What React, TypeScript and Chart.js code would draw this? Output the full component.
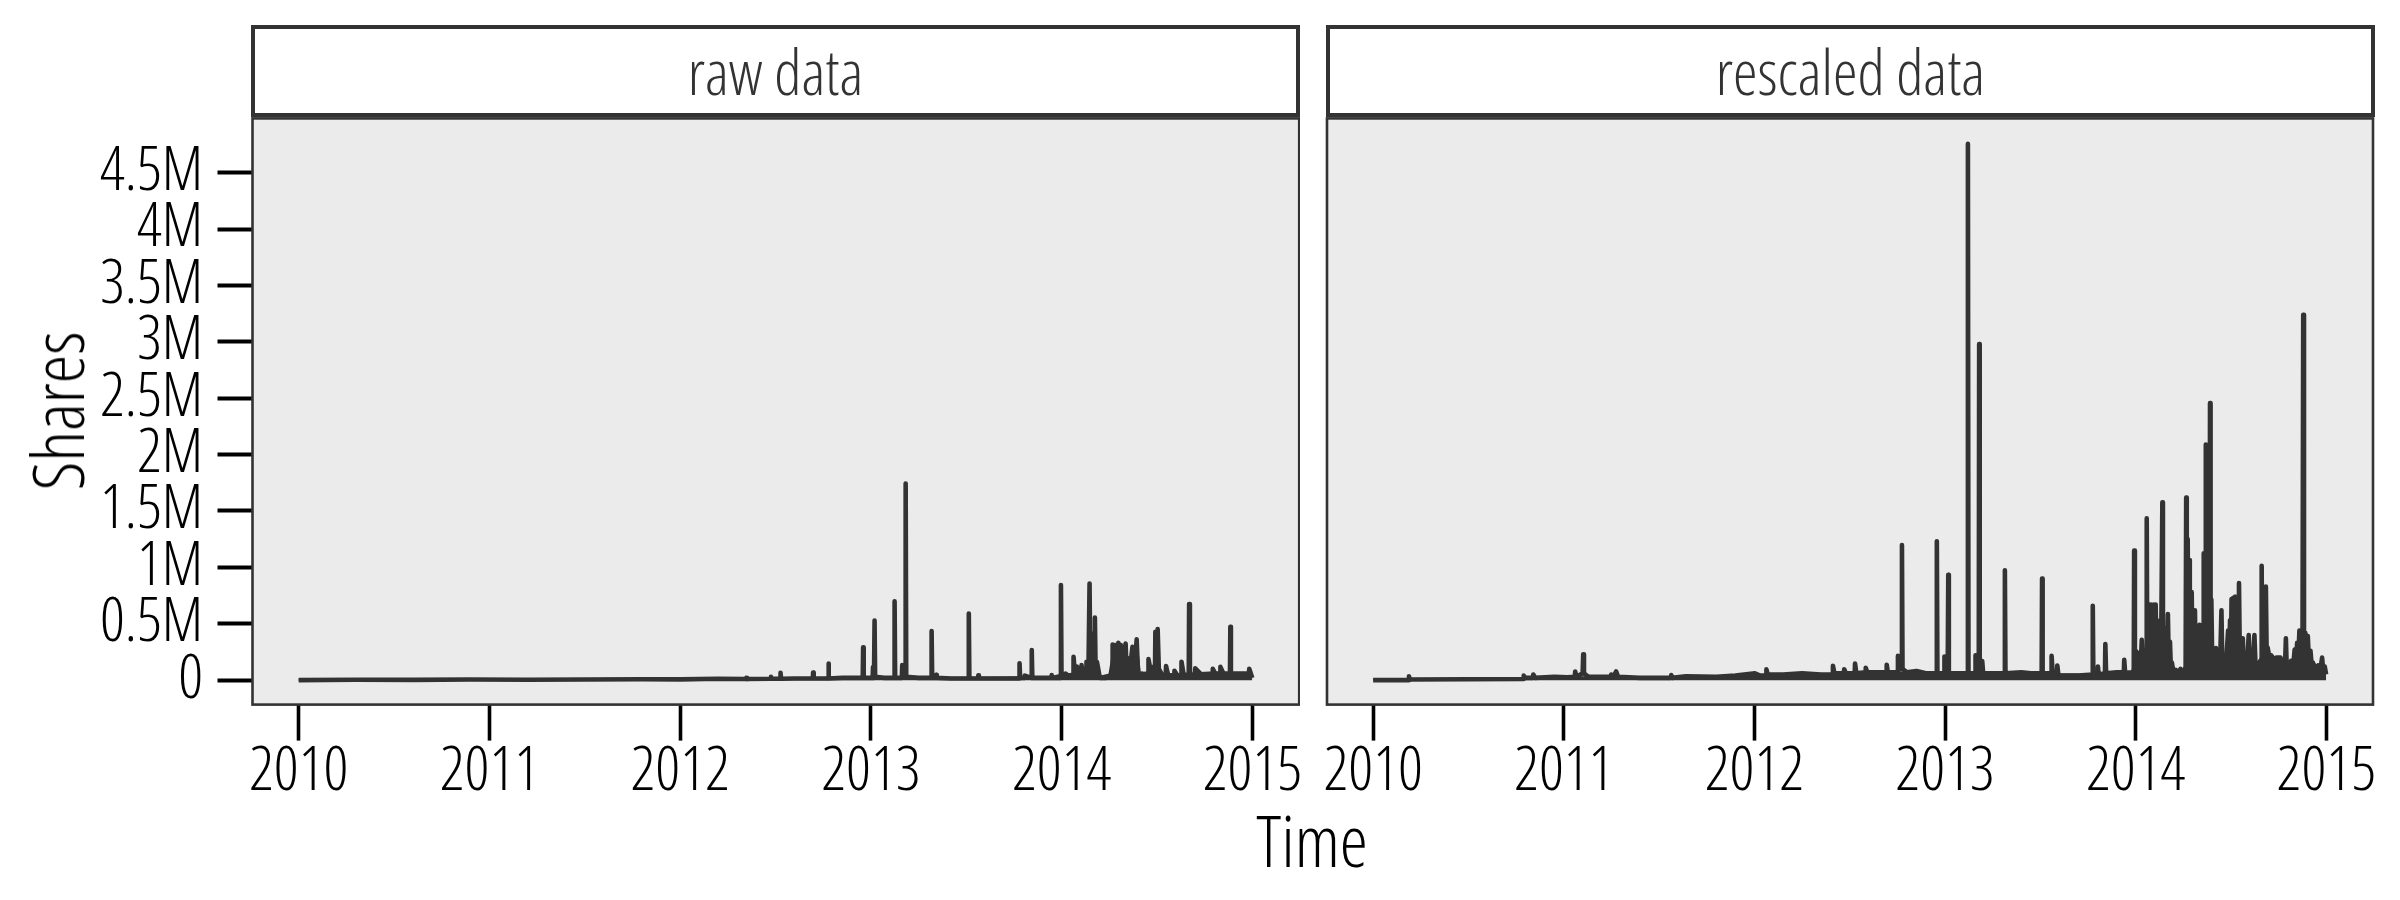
import React, { useEffect, useRef } from "react";
import { Chart, registerables } from "chart.js";

Chart.register(...registerables);

// ---------- data ----------
const xTickValues = [2010, 2011, 2012, 2013, 2014, 2015];
const xTickLabels = ["2010", "2011", "2012", "2013", "2014", "2015"];
const yTickValues = [0, 0.5, 1, 1.5, 2, 2.5, 3, 3.5, 4, 4.5];
const yTickLabels = ["0", "0.5M", "1M", "1.5M", "2M", "2.5M", "3M", "3.5M", "4M", "4.5M"];
const stripLabels = ["raw data", "rescaled data"];
const xTitle = "Time";
const yTitle = "Shares";

// raw data: time (decimal year), shares (millions)
const rawTime = [
  2010.0, 2010.3, 2010.6, 2010.9, 2011.2, 2011.5, 2011.8, 2012.0, 2012.2, 2012.344,
  2012.346, 2012.35, 2012.474, 2012.476, 2012.48, 2012.524, 2012.526, 2012.529, 2012.6, 2012.695,
  2012.697, 2012.7, 2012.775, 2012.777, 2012.78, 2012.85, 2012.957, 2012.959, 2012.962, 2013.009,
  2013.011, 2013.016, 2013.019, 2013.022, 2013.07, 2013.121, 2013.124, 2013.127, 2013.162, 2013.164,
  2013.179, 2013.182, 2013.185, 2013.25, 2013.316, 2013.318, 2013.321, 2013.34, 2013.342, 2013.345,
  2013.42, 2013.511, 2013.513, 2013.516, 2013.561, 2013.563, 2013.566, 2013.68, 2013.777, 2013.779,
  2013.782, 2013.805, 2013.807, 2013.841, 2013.843, 2013.846, 2013.944, 2013.946, 2013.949, 2013.994,
  2013.996, 2013.999, 2014.018, 2014.02, 2014.04, 2014.06, 2014.062, 2014.07, 2014.078, 2014.08,
  2014.09, 2014.102, 2014.104, 2014.112, 2014.128, 2014.13, 2014.14, 2014.146, 2014.15, 2014.156,
  2014.162, 2014.17, 2014.174, 2014.178, 2014.185, 2014.2, 2014.23, 2014.265, 2014.267, 2014.272,
  2014.28, 2014.286, 2014.297, 2014.302, 2014.31, 2014.318, 2014.335, 2014.34, 2014.348, 2014.35,
  2014.356, 2014.371, 2014.38, 2014.393, 2014.4, 2014.418, 2014.42, 2014.44, 2014.453, 2014.455,
  2014.47, 2014.489, 2014.491, 2014.497, 2014.503, 2014.51, 2014.545, 2014.547, 2014.56, 2014.589,
  2014.591, 2014.61, 2014.626, 2014.628, 2014.64, 2014.666, 2014.668, 2014.672, 2014.698, 2014.7,
  2014.74, 2014.79, 2014.792, 2014.81, 2014.83, 2014.832, 2014.85, 2014.882, 2014.884, 2014.887,
  2014.93, 2014.981, 2014.983, 2014.999,
];
const rawShares = [
  0, 0.004, 0.002, 0.005, 0.004, 0.006, 0.008, 0.007, 0.012, 0.01,
  0.02, 0.01, 0.012, 0.029, 0.012, 0.012, 0.065, 0.012, 0.015, 0.015,
  0.068, 0.015, 0.015, 0.148, 0.015, 0.02, 0.02, 0.29, 0.02, 0.02,
  0.117, 0.02, 0.529, 0.03, 0.02, 0.02, 0.7, 0.02, 0.02, 0.133,
  0.03, 1.744, 0.03, 0.02, 0.02, 0.435, 0.02, 0.02, 0.047, 0.02,
  0.015, 0.015, 0.59, 0.015, 0.015, 0.042, 0.015, 0.015, 0.015, 0.15,
  0.02, 0.02, 0.04, 0.02, 0.266, 0.02, 0.02, 0.044, 0.02, 0.02,
  0.843, 0.03, 0.03, 0.059, 0.03, 0.03, 0.207, 0.04, 0.04, 0.12,
  0.04, 0.04, 0.133, 0.04, 0.04, 0.163, 0.05, 0.857, 0.06, 0.414,
  0.355, 0.05, 0.555, 0.05, 0.16, 0.02, 0.02, 0.05, 0.316, 0.09,
  0.31, 0.09, 0.331, 0.09, 0.31, 0.07, 0.325, 0.09, 0.07, 0.177,
  0.07, 0.296, 0.07, 0.361, 0.05, 0.04, 0.059, 0.04, 0.04, 0.186,
  0.05, 0.05, 0.429, 0.1, 0.452, 0.05, 0.03, 0.124, 0.03, 0.03,
  0.083, 0.03, 0.04, 0.163, 0.04, 0.05, 0.674, 0.05, 0.04, 0.104,
  0.035, 0.04, 0.1, 0.04, 0.05, 0.118, 0.05, 0.05, 0.473, 0.05,
  0.035, 0.04, 0.1, 0.02,
];
// dense day-to-day noise of the raw data, drawn as its upper envelope (millions)
const rawBandTime = [
  2010.0, 2012.0, 2012.4, 2012.6, 2012.8, 2013.0, 2013.2, 2013.4, 2013.6, 2013.8, 2013.95,
  2014.0, 2014.1, 2014.18, 2014.2, 2014.25, 2014.265, 2014.3, 2014.34, 2014.4, 2014.41,
  2014.45, 2014.49, 2014.51, 2014.53, 2014.6, 2014.7, 2014.8, 2014.9, 2014.999,
];
const rawBandShares = [
  0.003, 0.006, 0.012, 0.015, 0.02, 0.025, 0.025, 0.02, 0.02, 0.025, 0.03,
  0.05, 0.06, 0.08, 0.03, 0.05, 0.2, 0.2, 0.2, 0.22, 0.06,
  0.07, 0.15, 0.12, 0.06, 0.05, 0.06, 0.07, 0.07, 0.07,
];

// rescaled data: time (decimal year), shares (millions)
const rescaledTime = [
  2010.0, 2010.185, 2010.188, 2010.192, 2010.5, 2010.787, 2010.79, 2010.8, 2010.838, 2010.84,
  2010.85, 2010.95, 2011.02, 2011.058, 2011.06, 2011.066, 2011.099, 2011.102, 2011.106, 2011.13,
  2011.247, 2011.249, 2011.26, 2011.275, 2011.285, 2011.4, 2011.562, 2011.564, 2011.57, 2011.64,
  2011.8, 2011.9, 2012.003, 2012.03, 2012.061, 2012.063, 2012.07, 2012.15, 2012.25, 2012.35,
  2012.41, 2012.412, 2012.42, 2012.469, 2012.471, 2012.48, 2012.526, 2012.528, 2012.535, 2012.582,
  2012.584, 2012.592, 2012.64, 2012.692, 2012.694, 2012.7, 2012.751, 2012.753, 2012.765, 2012.772,
  2012.774, 2012.777, 2012.8, 2012.85, 2012.9, 2012.955, 2012.957, 2012.96, 2012.995, 2012.997,
  2013.0, 2013.014, 2013.017, 2013.02, 2013.06, 2013.117, 2013.12, 2013.123, 2013.158, 2013.16,
  2013.165, 2013.177, 2013.179, 2013.182, 2013.195, 2013.2, 2013.25, 2013.312, 2013.314, 2013.317,
  2013.4, 2013.45, 2013.507, 2013.509, 2013.512, 2013.557, 2013.559, 2013.565, 2013.587, 2013.589,
  2013.595, 2013.7, 2013.773, 2013.775, 2013.778, 2013.8, 2013.802, 2013.806, 2013.839, 2013.841,
  2013.845, 2013.9, 2013.938, 2013.94, 2013.945, 2013.99, 2013.992, 2013.996, 2014.004, 2014.01,
  2014.019, 2014.025, 2014.032, 2014.038, 2014.045, 2014.055, 2014.058, 2014.061, 2014.065,
  2014.068, 2014.072, 2014.076, 2014.081, 2014.086, 2014.096, 2014.1, 2014.105, 2014.109, 2014.114,
  2014.12, 2014.127, 2014.133, 2014.138, 2014.14, 2014.143, 2014.148, 2014.154, 2014.16, 2014.164,
  2014.169, 2014.174, 2014.18, 2014.185, 2014.19, 2014.2, 2014.212, 2014.222, 2014.235, 2014.245,
  2014.252, 2014.262, 2014.265, 2014.268, 2014.273, 2014.276, 2014.28, 2014.284, 2014.287, 2014.29,
  2014.294, 2014.298, 2014.303, 2014.307, 2014.311, 2014.315, 2014.322, 2014.327, 2014.335, 2014.34,
  2014.346, 2014.352, 2014.355, 2014.357, 2014.36, 2014.365, 2014.368, 2014.371, 2014.376, 2014.38,
  2014.385, 2014.388, 2014.39, 2014.393, 2014.397, 2014.402, 2014.41, 2014.415, 2014.421, 2014.428,
  2014.436, 2014.442, 2014.45, 2014.455, 2014.464, 2014.472, 2014.485, 2014.49, 2014.495, 2014.499,
  2014.503, 2014.507, 2014.512, 2014.517, 2014.523, 2014.528, 2014.533, 2014.538, 2014.542, 2014.547,
  2014.552, 2014.557, 2014.562, 2014.568, 2014.575, 2014.583, 2014.593, 2014.6, 2014.606, 2014.614,
  2014.623, 2014.63, 2014.638, 2014.65, 2014.659, 2014.661, 2014.664, 2014.672, 2014.677, 2014.683,
  2014.688, 2014.692, 2014.7, 2014.705, 2014.711, 2014.72, 2014.725, 2014.738, 2014.748, 2014.76,
  2014.77, 2014.783, 2014.788, 2014.793, 2014.802, 2014.815, 2014.825, 2014.834, 2014.84, 2014.847,
  2014.852, 2014.859, 2014.865, 2014.87, 2014.875, 2014.879, 2014.883, 2014.89, 2014.896, 2014.903,
  2014.91, 2014.917, 2014.925, 2014.93, 2014.945, 2014.958, 2014.968, 2014.978, 2014.985, 2014.992,
  2014.999,
];
const rescaledShares = [
  0, 0, 0.035, 0.005, 0.008, 0.01, 0.04, 0.02, 0.02, 0.05,
  0.02, 0.03, 0.025, 0.03, 0.077, 0.03, 0.06, 0.229, 0.06, 0.03,
  0.03, 0.05, 0.03, 0.077, 0.03, 0.02, 0.02, 0.045, 0.02, 0.035,
  0.03, 0.04, 0.06, 0.04, 0.04, 0.097, 0.05, 0.05, 0.06, 0.05,
  0.05, 0.128, 0.06, 0.06, 0.097, 0.06, 0.06, 0.148, 0.06, 0.07,
  0.11, 0.07, 0.07, 0.07, 0.137, 0.07, 0.07, 0.215, 0.1, 0.1,
  1.198, 0.1, 0.07, 0.08, 0.06, 0.06, 1.232, 0.06, 0.06, 0.21,
  0.06, 0.06, 0.934, 0.06, 0.06, 0.06, 4.755, 0.06, 0.06, 0.22,
  0.06, 0.06, 2.98, 0.06, 0.17, 0.06, 0.06, 0.06, 0.974, 0.06,
  0.07, 0.06, 0.06, 0.9, 0.06, 0.06, 0.215, 0.05, 0.05, 0.13,
  0.04, 0.04, 0.05, 0.66, 0.05, 0.05, 0.12, 0.05, 0.06, 0.32,
  0.06, 0.07, 0.07, 0.18, 0.06, 0.05, 1.148, 0.1, 0.256, 0.08,
  0.24, 0.08, 0.358, 0.08, 0.19, 0.08, 1.434, 0.1, 0.64,
  0.2, 0.67, 0.2, 0.67, 0.2, 0.67, 0.25, 0.67, 0.15, 0.36,
  0.12, 0.528, 0.12, 0.12, 1.577, 0.12, 0.358, 0.12, 0.46, 0.12,
  0.585, 0.12, 0.34, 0.08, 0.155, 0.05, 0.09, 0.04, 0.1, 0.04,
  0.08, 0.05, 1.62, 0.1, 1.25, 0.1, 1.065, 0.1, 0.78, 0.1,
  0.78, 0.1, 0.4, 0.1, 0.62, 0.1, 0.33, 0.1, 0.49, 0.1,
  0.42, 0.1, 0.1, 1.125, 0.1, 0.1, 2.09, 0.1, 1.8, 0.1,
  0.2, 0.1, 2.456, 0.1, 0.715, 0.1, 0.26, 0.08, 0.285, 0.08,
  0.22, 0.08, 0.62, 0.08, 0.22, 0.08, 0.44, 0.1, 0.53, 0.1,
  0.72, 0.1, 0.73, 0.1, 0.74, 0.1, 0.4, 0.1, 0.86, 0.1,
  0.3, 0.1, 0.37, 0.08, 0.11, 0.08, 0.4, 0.08, 0.15, 0.08,
  0.4, 0.07, 0.11, 0.07, 0.08, 1.013, 0.1, 0.32, 0.1, 0.83,
  0.1, 0.29, 0.22, 0.1, 0.22, 0.2, 0.1, 0.2, 0.2, 0.2,
  0.1, 0.1, 0.37, 0.08, 0.07, 0.17, 0.1, 0.27, 0.12, 0.33,
  0.15, 0.44, 0.15, 0.4, 0.15, 3.24, 0.15, 0.42, 0.15, 0.39,
  0.12, 0.26, 0.1, 0.155, 0.08, 0.13, 0.08, 0.2, 0.06, 0.12,
  0.05,
];
// dense day-to-day noise of the rescaled data, drawn as its upper envelope (millions)
const rescaledBandTime = [
  2010.0, 2010.78, 2010.85, 2011.0, 2011.2, 2011.5, 2011.8, 2012.0, 2012.2, 2012.4, 2012.6,
  2012.8, 2013.0, 2013.2, 2013.4, 2013.6, 2013.75, 2013.9, 2013.98, 2014.0, 2014.03,
  2014.06, 2014.1, 2014.13, 2014.17, 2014.19, 2014.23, 2014.26, 2014.27, 2014.31, 2014.35,
  2014.39, 2014.42, 2014.46, 2014.5, 2014.55, 2014.58, 2014.62, 2014.66, 2014.7, 2014.76,
  2014.78, 2014.8, 2014.84, 2014.87, 2014.9, 2014.93, 2014.96, 2014.999,
];
const rescaledBandShares = [
  0.005, 0.01, 0.025, 0.02, 0.03, 0.025, 0.03, 0.04, 0.04, 0.05, 0.06,
  0.07, 0.065, 0.07, 0.06, 0.05, 0.05, 0.07, 0.08, 0.15, 0.22,
  0.3, 0.3, 0.22, 0.2, 0.1, 0.07, 0.12, 0.35, 0.3, 0.25,
  0.3, 0.18, 0.15, 0.25, 0.2, 0.12, 0.12, 0.2, 0.2, 0.2,
  0.1, 0.07, 0.2, 0.3, 0.3, 0.15, 0.12, 0.1,
];

// ---------- layout / style ----------
const FONT = "'Open Sans'";
const FONT_WEIGHT = "300 condensed";
const LINE_COLOR = "#333333";
const PANEL_BG = "#EBEBEB";
const X_MIN = 2009.758;
const X_MAX = 2015.245;
const Y_MIN = -0.217;
const Y_MAX = 4.981;
const PANEL_TOP = 118.4;
const PANEL_BOTTOM = 704.6;

const panelPlugin = {
  id: "panelBox",
  beforeDraw(chart: any) {
    const { ctx, chartArea } = chart;
    const { left, top, right, bottom } = chartArea;
    ctx.save();
    ctx.fillStyle = PANEL_BG;
    ctx.fillRect(left, top, right - left, bottom - top);
    ctx.restore();
  },
  afterDraw(chart: any) {
    const { ctx, chartArea } = chart;
    const { left, top, right, bottom } = chartArea;
    ctx.save();
    ctx.strokeStyle = "#333333";
    ctx.lineWidth = 2.6;
    ctx.strokeRect(left, top, right - left, bottom - top);
    ctx.restore();
  },
};

type PanelProps = {
  times: number[];
  values: number[];
  bandTimes: number[];
  bandValues: number[];
  showY: boolean;
  canvasLeft: number;
  canvasWidth: number;
  padLeft: number;
  padRight: number;
  yWidth: number;
};

function Panel({ times, values, bandTimes, bandValues, showY, canvasLeft, canvasWidth, padLeft, padRight, yWidth }: PanelProps) {
  const ref = useRef<HTMLCanvasElement>(null);
  useEffect(() => {
    const canvas = ref.current!;
    const chart = new Chart(canvas, {
      type: "line",
      data: {
        datasets: [
          {
            data: bandTimes.map((t, i) => ({ x: t, y: bandValues[i] })),
            borderColor: LINE_COLOR,
            backgroundColor: LINE_COLOR,
            borderWidth: 2,
            pointRadius: 0,
            tension: 0,
            fill: "origin",
          },
          {
            data: times.map((t, i) => ({ x: t, y: values[i] })),
            borderColor: LINE_COLOR,
            borderWidth: 4.6,
            pointRadius: 0,
            borderJoinStyle: "round",
            borderCapStyle: "butt",
            tension: 0,
            fill: false,
          },
        ],
      },
      options: {
        animation: false,
        responsive: false,
        events: [],
        layout: { padding: { top: PANEL_TOP, left: padLeft, right: padRight, bottom: 0 } },
        plugins: {
          legend: { display: false },
          tooltip: { enabled: false },
          title: { display: false },
        },
        scales: {
          x: {
            type: "linear",
            min: X_MIN,
            max: X_MAX,
            afterBuildTicks: (s: any) => {
              s.ticks = xTickValues.map((v) => ({ value: v }));
            },
            afterFit: (s: any) => {
              s.height = 900 - PANEL_BOTTOM;
              s.paddingLeft = 0;
              s.paddingRight = 0;
            },
            ticks: {
              autoSkip: false,
              maxRotation: 0,
              minRotation: 0,
              padding: 2,
              color: "#000000",
              font: { family: FONT, size: 61, weight: FONT_WEIGHT as any, lineHeight: 1 },
              callback: (_v: any, i: number) => xTickLabels[i],
            },
            grid: {
              drawOnChartArea: false,
              drawTicks: true,
              tickLength: 36,
              tickWidth: 3.6,
              tickColor: "#000000",
            },
            border: { display: false },
          },
          y: {
            type: "linear",
            display: showY,
            min: Y_MIN,
            max: Y_MAX,
            afterBuildTicks: (s: any) => {
              s.ticks = yTickValues.map((v) => ({ value: v }));
            },
            afterFit: (s: any) => {
              s.width = yWidth;
            },
            ticks: {
              autoSkip: false,
              padding: 14.5,
              color: "#000000",
              font: { family: FONT, size: 61, weight: FONT_WEIGHT as any, lineHeight: 1 },
              callback: (_v: any, i: number) => yTickLabels[i],
            },
            grid: {
              drawOnChartArea: false,
              drawTicks: true,
              tickLength: 35,
              tickWidth: 4,
              tickColor: "#000000",
            },
            border: { display: false },
          },
        },
      },
      plugins: [panelPlugin],
    });
    return () => chart.destroy();
  }, []);
  return (
    <canvas
      ref={ref}
      width={canvasWidth}
      height={900}
      style={{ position: "absolute", left: canvasLeft, top: 0, width: canvasWidth, height: 900 }}
    />
  );
}

const textBase: React.CSSProperties = {
  fontFamily: FONT,
  fontWeight: 300,
  fontStretch: "condensed",
  position: "absolute",
  whiteSpace: "nowrap",
  lineHeight: 1,
};

function Strip({ left, width, label }: { left: number; width: number; label: string }) {
  return (
    <div
      style={{
        position: "absolute",
        left,
        top: 25,
        width,
        height: 92,
        boxSizing: "border-box",
        border: "4.5px solid #333333",
        background: "#ffffff",
        display: "flex",
        alignItems: "center",
        justifyContent: "center",
      }}
    >
      <span style={{ ...textBase, position: "static", fontSize: 62, color: "#333333" }}>{label}</span>
    </div>
  );
}

export default function App() {
  return (
    <div
      style={{
        position: "fixed",
        left: 0,
        top: 0,
        width: 2400,
        height: 900,
        background: "#ffffff",
        overflow: "hidden",
      }}
    >
      <Panel
        times={rawTime}
        values={rawShares}
        bandTimes={rawBandTime}
        bandValues={rawBandShares}
        showY={true}
        canvasLeft={0}
        canvasWidth={1300}
        padLeft={0}
        padRight={0.8}
        yWidth={252.5}
      />
      <Panel
        times={rescaledTime}
        values={rescaledShares}
        bandTimes={rescaledBandTime}
        bandValues={rescaledBandShares}
        showY={false}
        canvasLeft={1300}
        canvasWidth={1100}
        padLeft={27}
        padRight={27}
        yWidth={0}
      />
      <Strip left={251} width={1049} label={stripLabels[0]} />
      <Strip left={1326} width={1049} label={stripLabels[1]} />
      <div style={{ ...textBase, fontSize: 71, color: "#000", left: 1312, top: 804, transform: "translateX(-50%)" }}>
        {xTitle}
      </div>
      <div
        style={{
          ...textBase,
          fontSize: 72,
          color: "#000",
          left: 56,
          top: 411,
          transform: "translate(-50%, -50%) rotate(-90deg)",
        }}
      >
        {yTitle}
      </div>
    </div>
  );
}
